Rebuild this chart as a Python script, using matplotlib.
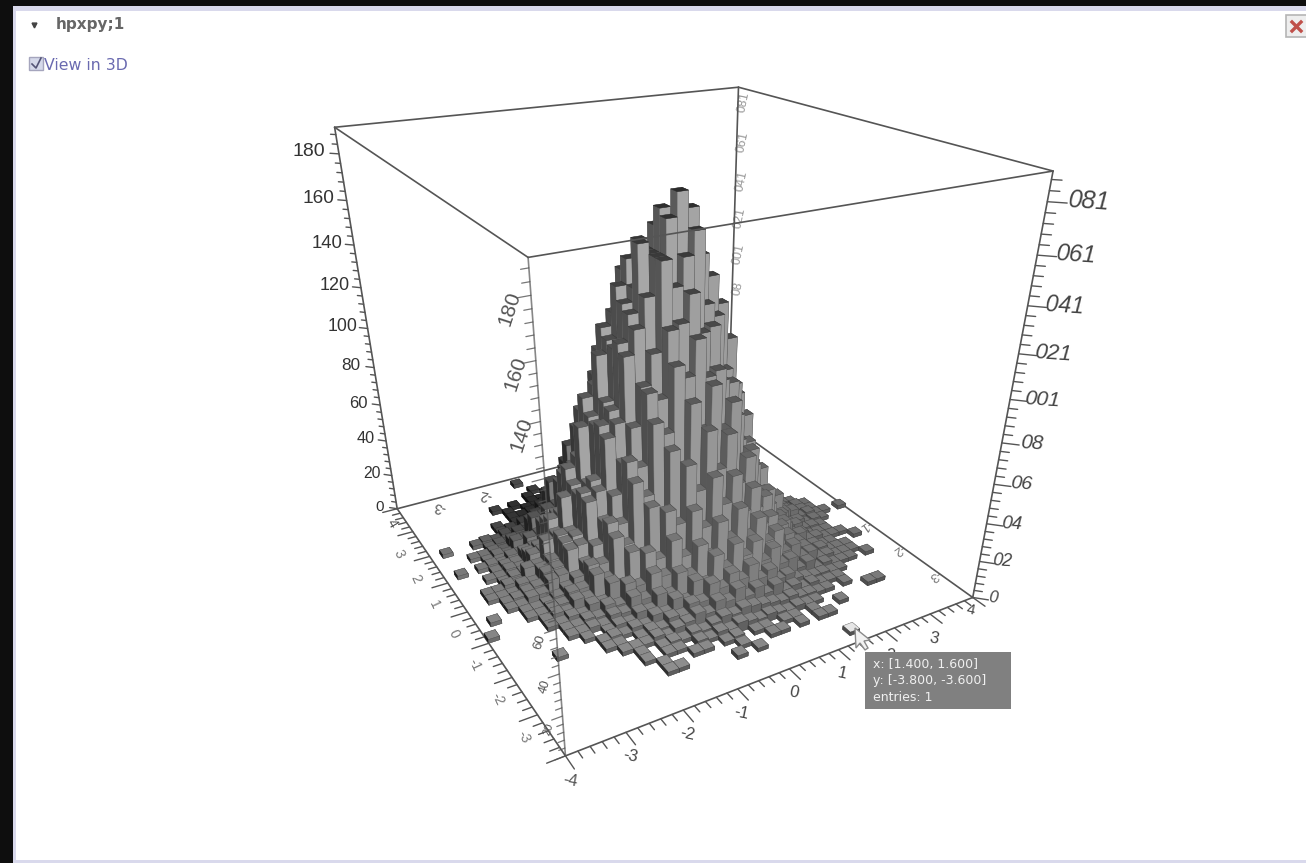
import numpy as np
import matplotlib
matplotlib.use('Agg')
import matplotlib.pyplot as plt
from matplotlib.patches import Rectangle, Polygon

plt.rcParams['font.family'] = ['Liberation Sans', 'DejaVu Sans']

# Histogram counts, 40 x 40 bins over [-4, 4]. row: y bin -> (first x bin, counts)
row_starts = {
    1: 27, 3: 17, 4: 11, 5: 11, 6: 10, 7: 10, 8: 9, 9: 8, 10: 4, 11: 7, 12: 6, 13: 6, 14: 5, 15: 0, 16: 4, 17: 1,
    18: 3, 19: 3, 20: 2, 21: 2, 22: 4, 23: 3, 24: 4, 25: 1, 26: 4, 27: 3, 28: 5, 29: 1, 30: 7, 31: 7, 32: 9, 33: 9,
    34: 8, 35: 12, 36: 13, 38: 12,
}
row_counts = {
    1: [1],
    3: [1, 0, 1],
    4: [1, 1, 0, 0, 0, 0, 0, 1, 0, 0, 1, 1, 0, 1, 0, 1, 1],
    5: [1, 0, 0, 1, 1, 0, 1, 2, 0, 1, 1, 0, 1, 1, 0, 1, 0, 0, 1],
    6: [1, 0, 1, 1, 0, 2, 1, 3, 2, 4, 3, 2, 3, 2, 1, 2, 1, 1, 0, 0, 0, 0, 0, 1, 1],
    7: [1, 0, 1, 2, 1, 3, 2, 4, 6, 5, 7, 6, 5, 4, 3, 4, 2, 2, 1, 1, 0, 1],
    8: [1, 1, 1, 3, 1, 4, 5, 8, 6, 11, 9, 14, 8, 11, 6, 9, 4, 5, 2, 3, 1, 1, 1],
    9: [1, 1, 0, 1, 3, 2, 6, 5, 10, 9, 17, 13, 19, 14, 20, 11, 14, 7, 8, 4, 3, 2, 2, 1, 1],
    10: [1, 0, 0, 0, 1, 2, 1, 3, 2, 6, 5, 11, 8, 17, 14, 27, 19, 30, 22, 28, 16, 21, 11, 12, 5, 7, 2, 3, 1, 1, 1, 0, 1],
    11: [1, 0, 1, 3, 2, 6, 5, 12, 10, 20, 17, 31, 24, 40, 30, 44, 28, 36, 22, 26, 13, 15, 7, 8, 3, 3, 1, 1, 1],
    12: [1, 1, 2, 1, 5, 4, 11, 8, 20, 17, 34, 24, 46, 36, 60, 45, 58, 38, 49, 28, 31, 15, 18, 7, 8, 3, 4, 1, 1, 1],
    13: [1, 1, 3, 2, 7, 5, 15, 12, 28, 23, 46, 38, 66, 52, 80, 60, 76, 50, 62, 34, 39, 18, 20, 8, 8, 3, 3, 1, 1, 0, 0, 1],
    14: [1, 1, 3, 2, 6, 5, 14, 11, 27, 24, 47, 42, 72, 60, 92, 78, 98, 76, 88, 56, 62, 36, 38, 18, 18, 7, 8, 3, 3, 1, 1, 1],
    15: [1, 0, 0, 0, 0, 1, 3, 2, 7, 6, 17, 13, 33, 28, 58, 50, 84, 78, 108, 102, 118, 100, 102, 78, 78, 52, 50, 28, 26, 12, 12, 5, 4, 1, 1, 1],
    16: [1, 1, 3, 3, 8, 8, 19, 18, 38, 36, 66, 62, 96, 92, 122, 124, 136, 118, 120, 94, 92, 62, 60, 34, 31, 16, 14, 6, 6, 2, 2, 1],
    17: [1, 0, 0, 1, 1, 2, 4, 7, 11, 17, 25, 36, 48, 63, 79, 97, 111, 150, 138, 150, 160, 128, 122, 96, 88, 58, 52, 28, 26, 11, 11, 4, 4, 1, 2, 1],
    18: [1, 1, 4, 4, 10, 11, 23, 24, 45, 49, 74, 80, 110, 121, 134, 150, 165, 175, 168, 148, 138, 125, 108, 80, 68, 42, 37, 20, 19, 8, 7, 2, 3, 1, 1, 0, 1],
    19: [1, 2, 4, 5, 11, 12, 24, 26, 47, 52, 78, 84, 114, 126, 155, 150, 168, 158, 150, 144, 128, 112, 96, 66, 56, 32, 29, 14, 13, 5, 5, 1, 2, 1],
    20: [1, 1, 1, 5, 4, 10, 13, 25, 25, 44, 48, 76, 86, 110, 129, 135, 150, 160, 155, 150, 140, 125, 112, 94, 66, 56, 32, 28, 14, 13, 5, 5, 1, 2, 1],
    21: [1, 1, 3, 2, 9, 9, 21, 23, 41, 46, 74, 78, 106, 112, 135, 146, 153, 150, 143, 135, 122, 106, 90, 62, 54, 31, 27, 13, 12, 4, 4, 1, 2, 1],
    22: [1, 3, 4, 12, 13, 28, 30, 52, 57, 85, 90, 116, 122, 140, 143, 140, 130, 120, 106, 94, 68, 60, 37, 31, 16, 14, 5, 5, 1, 1],
    23: [1, 1, 4, 3, 10, 12, 25, 27, 47, 50, 77, 78, 104, 106, 120, 128, 124, 114, 108, 84, 82, 55, 48, 27, 23, 11, 9, 3, 3, 1, 1],
    24: [1, 3, 3, 8, 9, 21, 22, 40, 43, 66, 66, 90, 88, 108, 108, 106, 96, 90, 68, 66, 43, 40, 21, 19, 8, 7, 2, 3, 1, 1],
    25: [1, 0, 1, 2, 1, 4, 4, 11, 12, 24, 25, 43, 44, 64, 62, 82, 80, 92, 80, 83, 64, 65, 45, 42, 24, 22, 10, 9, 4, 4, 1, 1, 1],
    26: [1, 3, 2, 8, 8, 18, 18, 35, 34, 52, 50, 67, 62, 74, 62, 65, 46, 50, 32, 32, 17, 17, 7, 7, 2, 3, 1, 1],
    27: [1, 1, 2, 1, 6, 5, 14, 13, 27, 25, 41, 37, 53, 48, 56, 42, 44, 30, 31, 18, 17, 8, 8, 3, 3, 1, 1],
    28: [1, 2, 1, 6, 5, 13, 12, 24, 22, 36, 30, 43, 32, 38, 24, 27, 14, 17, 7, 9, 3, 3, 1, 1],
    29: [1, 0, 0, 1, 2, 1, 3, 2, 7, 6, 14, 11, 22, 17, 28, 22, 29, 18, 22, 13, 14, 7, 8, 3, 4, 1, 1, 1, 1],
    30: [1, 2, 1, 4, 4, 9, 8, 15, 12, 20, 15, 19, 11, 13, 7, 9, 3, 4, 1, 1, 1],
    31: [1, 0, 1, 1, 2, 3, 4, 6, 8, 9, 11, 10, 9, 7, 6, 4, 3, 2, 1, 1],
    32: [1, 1, 2, 2, 3, 4, 5, 6, 7, 6, 5, 4, 3, 2, 1, 1, 1],
    33: [1, 0, 1, 1, 2, 2, 3, 3, 4, 3, 2, 2, 1, 1, 1],
    34: [1, 0, 1, 0, 1, 1, 2, 1, 2, 2, 1, 1, 0, 1],
    35: [1, 0, 1, 1, 1, 0, 1, 1],
    36: [1, 0, 0, 1],
    38: [1],
}
hover_bin = (27, 1)

z_ticks = [0, 20, 40, 60, 80, 100, 120, 140, 160, 180]
front_z_ticks = [20, 40, 60, 140, 160, 180]
back_z_ticks = [80, 100, 120, 140, 160, 180]
xy_ticks = [-3, -2, -1, 0, 1, 2, 3]
tooltip_lines = ['x: [1.400, 1.600]', 'y: [-3.800, -3.600]', 'entries: 1']

BIN = 0.2
ZMAX = 191.0

counts = np.zeros((40, 40), dtype=int)
for iy, vals in row_counts.items():
    counts[iy, row_starts[iy]:row_starts[iy] + len(vals)] = vals

# Camera of the picture, fitted from where the eight box corners land in the image
box_3d = [(-4, -4, 0), (4, -4, 0), (-4, 4, 0), (4, 4, 0), (-4, -4, ZMAX), (4, -4, ZMAX), (-4, 4, ZMAX), (4, 4, ZMAX)]
box_px = [(565, 757), (972, 597), (397, 507), (729, 424), (530, 258), (1053, 170), (334, 128), (738, 87)]
eqs = []
for (x, y, z), (u, v) in zip(box_3d, box_px):
    eqs.append([x, y, z, 1, 0, 0, 0, 0, -u * x, -u * y, -u * z, -u])
    eqs.append([0, 0, 0, 0, x, y, z, 1, -v * x, -v * y, -v * z, -v])
P = np.linalg.svd(np.array(eqs, float))[2][-1].reshape(3, 4)
if P[2, 3] < 0:
    P = -P
cam = np.linalg.svd(P)[2][-1]
cam = cam[:3] / cam[3]


def to_px(x, y, z):
    p = P @ np.array([x, y, z, 1.0])
    return p[0] / p[2], p[1] / p[2]


fig = plt.figure(figsize=(13.06, 8.63), dpi=100, facecolor='#0e0e0e')

# page behind the chart
bg = fig.add_axes([0, 0, 1, 1], zorder=0)
bg.set_xlim(0, 1306)
bg.set_ylim(863, 0)
bg.axis('off')
bg.add_patch(Rectangle((13, 6), 1293, 857, fc='#d9d9ec', ec='none'))
bg.add_patch(Rectangle((16, 11), 1290, 849, fc='white', ec='none'))
bg.plot([34], [25], marker='v', ms=3.5, color='#444444')
bg.text(56, 25, 'hpxpy;1', fontsize=11, fontweight='bold', color='#666666', family='DejaVu Sans', va='center')
bg.add_patch(Rectangle((29, 57), 14, 13, fc='#d5d9ea', ec='#a5a5bd', lw=1))
bg.plot([32, 36, 41], [64, 68, 58], color='#555577', lw=1.2)
bg.text(44, 65, 'View in 3D', fontsize=11.3, color='#6a6ab0', family='DejaVu Sans', va='center')
bg.add_patch(Rectangle((1286, 15), 22, 22, fc='#eeeeee', ec='#b5b5b5', lw=1.2))
bg.plot([1292, 1301], [22, 31], color='#c0504a', lw=2.4)
bg.plot([1292, 1301], [31, 22], color='#c0504a', lw=2.4)


def label(x, y, z, s, dx, dy, size, color, rot=0, **kw):
    u, v = to_px(x, y, z)
    bg.text(u + dx, v + dy, s, fontsize=size, color=color, rotation=rot, ha='center', va='center',
            rotation_mode='anchor', **kw)


for zv in z_ticks:
    s = str(zv)
    label(-4, 4, zv, s, np.interp(zv, [0, 180], [-18, -30]), -2, np.interp(zv, [0, 180], [11, 14]), '#333333')
    # seen from behind these read mirrored
    label(4, -4, zv, s[::-1], np.interp(zv, [0, 180], [20, 42]), 0, np.interp(zv, [0, 180], [12, 18]), '#444444',
          rot=-4, style='italic')
for zv in front_z_ticks:
    label(-4, -4, zv, str(zv), np.interp(zv, [20, 180], [-14, -21]), 13,
          np.interp(zv, [20, 60, 140, 180], [8, 9.5, 15, 15]), '#555555', rot=72)
for zv in back_z_ticks:
    label(4, 4, zv, str(zv)[::-1], 6, -8, 9, '#999999', rot=78)

for t in xy_ticks:
    label(t, -4, 0, str(t), 4, 24, 12, '#444444', rot=-12)
    label(-4, t, 0, str(t), -14, 22, 10, '#777777', rot=-65)
label(4, -4, 0, '4', -2, 12, 11, '#444444', rot=-12)
label(-4, -4, 0, '-4', 5, 25, 12, '#555555', rot=-10)
label(-4, 4, 0, '4', -5, 15, 10, '#555555', rot=-60)
for t in [-3, -2]:
    label(t, 3.68, 0, str(t), -10, 3, 10, '#555555', rot=170)
for t in [-3, -2, -1]:
    label(3.72, t, 0, str(t), 12, 1, 9.5, '#777777', rot=215)

ax = fig.add_axes([0, 0, 1, 1], projection='3d', computed_zorder=False, zorder=1)
ax.set_axis_off()
ax.patch.set_visible(False)


def fitted_proj():
    to_data = ax.transData.inverted().get_matrix()
    flip = np.array([[1, 0, 0], [0, -1, 863], [0, 0, 1.0]])
    q = to_data @ flip @ P
    return np.array([q[0], q[1], [0, 0, 0, -1], q[2]])


ax.get_proj = fitted_proj


def shade(point, normal, factor=1.0):
    scale = np.array([4, 4, ZMAX / 2])
    d = (cam - np.array(point)) / scale
    n = abs(np.dot(d / np.linalg.norm(d), normal))
    g = float(np.clip(0.94 * n - 0.074, 0.08, 0.85))
    # a patch of the floor at the back sits in shadow
    dist = np.hypot(point[0] + 1.5, point[1] - 2.5)
    g *= 1 - 0.6 * np.clip(1.3 - dist / 1.5, 0, 1)
    g *= factor
    return (g, g, g)


def darker(c):
    return tuple(v * 0.75 for v in c)


# bars, far ones first
order = 10
for iy in range(39, -1, -1):
    for ix in range(39, -1, -1):
        h = counts[iy, ix]
        if h == 0:
            continue
        x0 = -4 + ix * BIN
        y0 = -4 + iy * BIN
        top = h + 1
        low = np.interp(h, [1, 25], [0.7, 1.0])
        c_top = shade((x0 + BIN / 2, y0 + BIN / 2, top), (0, 0, 1))
        c_fy = shade((x0 + BIN / 2, y0, top / 2), (0, 1, 0), low)
        c_fx = shade((x0, y0 + BIN / 2, top / 2), (1, 0, 0), low)
        if (ix, iy) == hover_bin:
            c_top = (0.9, 0.9, 0.9)
        face_colors = [c_top, c_top, c_fy, c_fy, c_fx, c_fx]
        ax.bar3d(x0, y0, 0, BIN, BIN, top, color=face_colors, edgecolor=[darker(c) for c in face_colors],
                 linewidth=0.3, shade=False, zorder=order)
        order += 1
front = order + 1

LINE = '#555555'


def seg(a, b, zo, color=LINE, lw=1.2, alpha=1.0):
    ax.plot([a[0], b[0]], [a[1], b[1]], [a[2], b[2]], color=color, lw=lw, alpha=alpha, zorder=zo,
            solid_capstyle='round')


# box edges
for a, b in [((-4, 4, 0), (4, 4, 0)), ((4, -4, 0), (4, 4, 0)), ((4, 4, 0), (4, 4, ZMAX)),
             ((-4, 4, 0), (-4, 4, ZMAX)), ((4, -4, 0), (4, -4, ZMAX)), ((-4, -4, 0), (4, -4, 0)),
             ((-4, -4, 0), (-4, 4, 0)), ((-4, 4, ZMAX), (4, 4, ZMAX)), ((4, -4, ZMAX), (4, 4, ZMAX))]:
    seg(a, b, 2)
seg((-4, -4, 0), (-4, -4, ZMAX), front, alpha=0.7)
seg((-4, -4, ZMAX), (4, -4, ZMAX), front)
seg((-4, -4, ZMAX), (-4, 4, ZMAX), front)

# floor ticks
for t in np.arange(-4, 4.01, 0.2):
    major = abs(t - round(t)) < 1e-6
    ln = 0.3 if major else 0.16
    seg((t, -4, 0), (t, -4 - ln, 0), 2, lw=1.0)
    seg((-4, t, 0), (-4 - ln, t, 0), 2, lw=1.0)

# z ticks on the verticals
for zv in np.arange(0, 190, 4):
    major = zv % 20 == 0
    d_r = 0.19 if major else 0.1
    d_l = 0.12 if major else 0.07
    seg((4, -4, zv), (4 + d_r, -4 - d_r, zv), 2, lw=1.0)
    seg((-4, 4, zv), (-4 - d_l, 4 + d_l, zv), 2, lw=1.0)
    seg((-4, -4, zv), (-4 - 1.4 * d_l, -4, zv), front, lw=0.9, alpha=0.8)

# tooltip and mouse pointer on top
ui = fig.add_axes([0, 0, 1, 1], zorder=2)
ui.set_xlim(0, 1306)
ui.set_ylim(863, 0)
ui.axis('off')
ui.patch.set_visible(False)
ui.add_patch(Polygon([(855, 628), (856, 648), (860, 643), (865, 650), (868, 648), (864, 641), (870, 640)],
                     fc='#f2f2f2', ec='#8a8a8a', lw=1))
ui.add_patch(Rectangle((865, 652), 146, 57, fc='#808080', ec='none'))
for i, line in enumerate(tooltip_lines):
    ui.text(873, 664 + i * 16.5, line, fontsize=9, color='#f0f0f0', family='DejaVu Sans', va='center')

fig.savefig('out.png', dpi=100)
